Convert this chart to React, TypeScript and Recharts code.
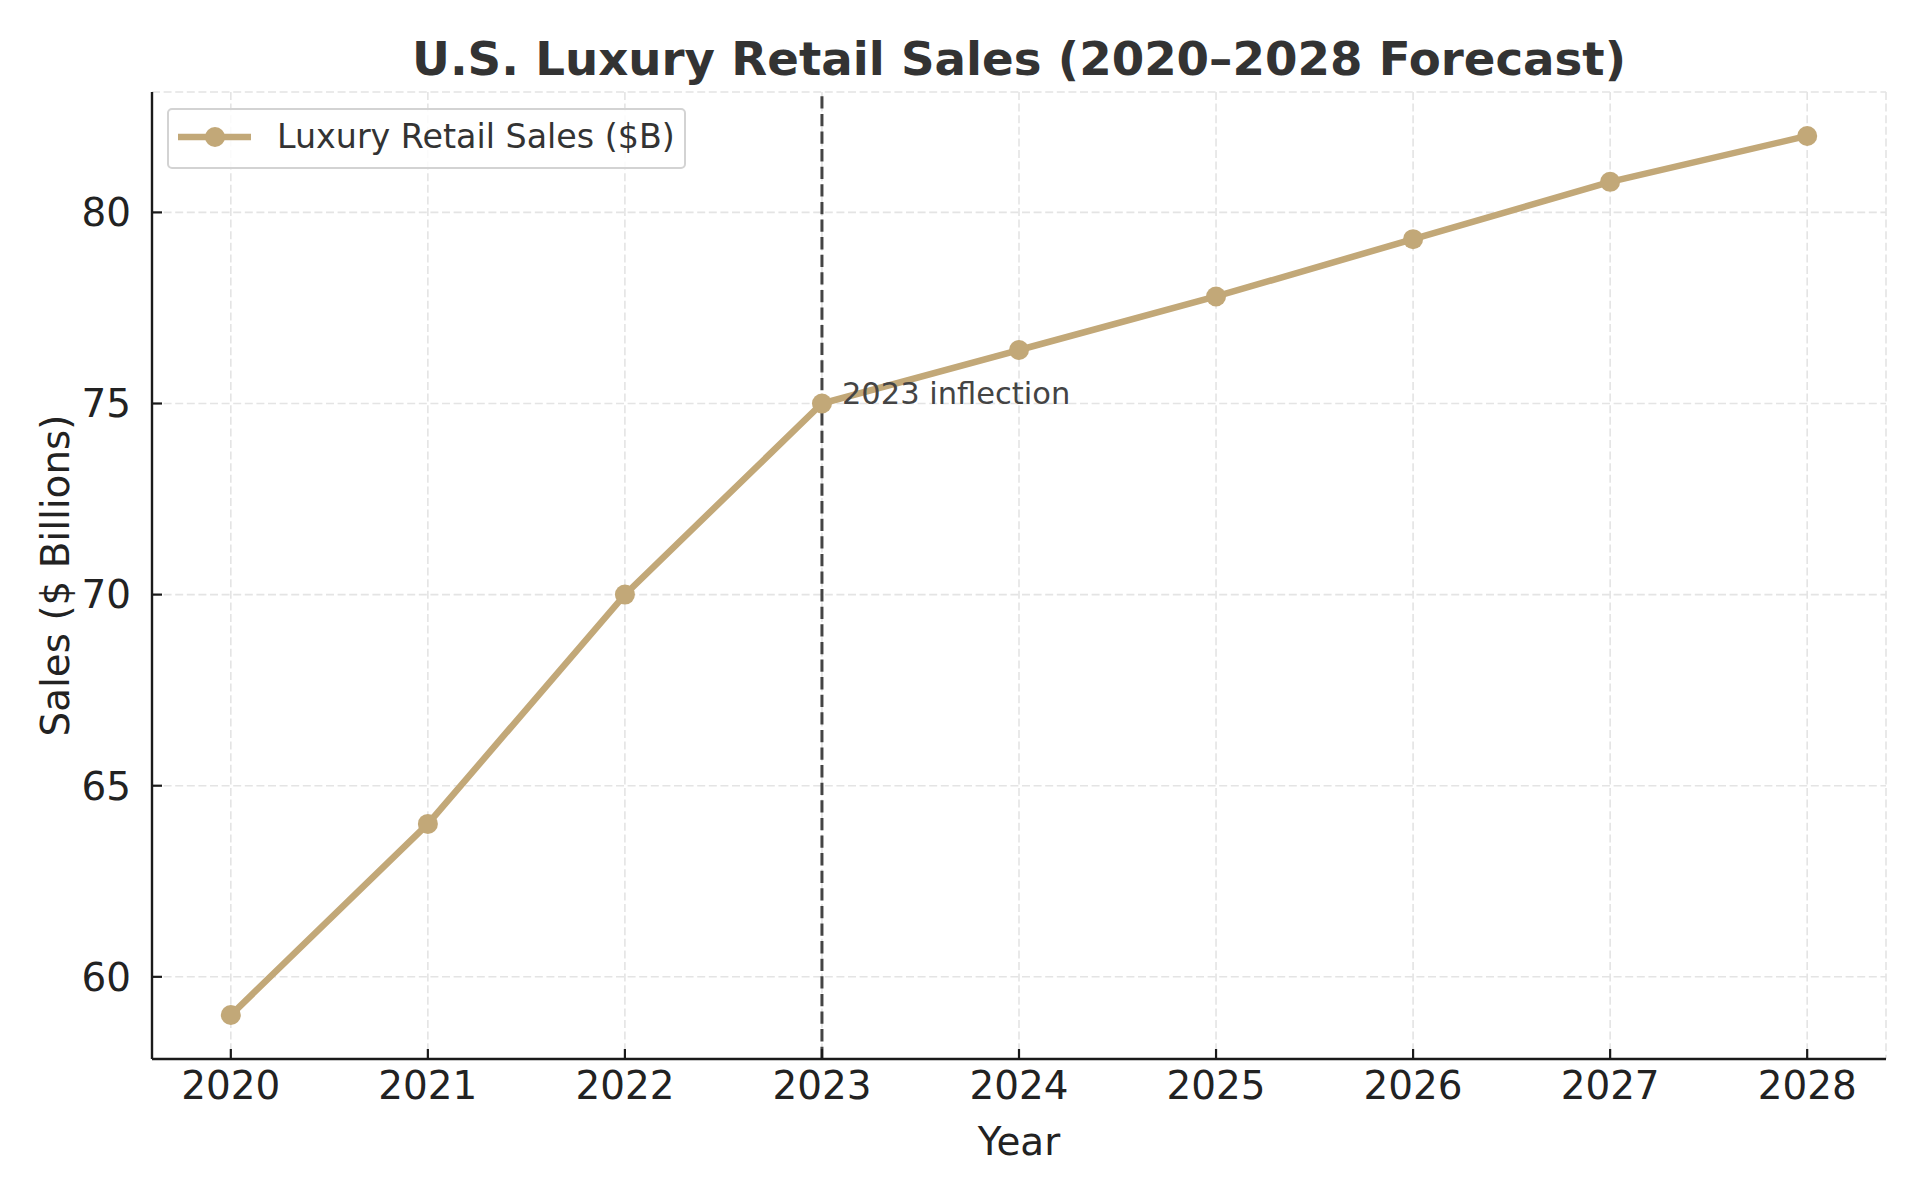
import React from 'react';
import {
  LineChart,
  Line,
  XAxis,
  YAxis,
  CartesianGrid,
  ReferenceLine,
  ReferenceDot,
  Legend,
} from 'recharts';

const years = [2020, 2021, 2022, 2023, 2024, 2025, 2026, 2027, 2028];
const sales = [59, 64, 70, 75, 76.4, 77.8, 79.3, 80.8, 82];
const yTicks = [60, 65, 70, 75, 80];
const xDomain = [2019.6, 2028.4];
const yDomain = [57.85, 83.15];
const inflectionYear = 2023;
const inflectionValue = 75;
const inflectionText = '2023 inflection';
const seriesName = 'Luxury Retail Sales ($B)';
const titleText = 'U.S. Luxury Retail Sales (2020–2028 Forecast)';
const xLabelText = 'Year';
const yLabelText = 'Sales ($ Billions)';

const data = years.map((year, i) => ({ year, sales: sales[i] }));

const FONT = '"DejaVu Sans", Verdana, sans-serif';
const GOLD = '#C2A878';
const AXIS = '#1a1a1a';
const TEXT = '#222222';

const LegendBox = (props: any) => {
  const entry = props.payload && props.payload[0];
  const label = entry ? entry.value : seriesName;
  const color = entry ? entry.color : GOLD;
  return (
    <div
      style={{
        boxSizing: 'border-box',
        width: 519,
        height: 61,
        border: '2px solid #d3d3d3',
        borderRadius: 5,
        background: 'rgba(255,255,255,0.85)',
        position: 'relative',
        fontFamily: FONT,
      }}
    >
      <svg width={95} height={57} style={{ position: 'absolute', left: 0, top: 0 }}>
        <line x1={9} x2={82} y1={27} y2={27} stroke={color} strokeWidth={6.5} />
        <circle cx={46} cy={27} r={10} fill={color} />
      </svg>
      <span
        style={{
          position: 'absolute',
          left: 108,
          top: 10,
          fontSize: 33.3,
          lineHeight: '33.3px',
          color: '#333333',
          whiteSpace: 'nowrap',
        }}
      >
        {label}
      </span>
    </div>
  );
};

const YLabel = (props: any) => {
  const vb = props.viewBox || { x: 0, y: 92, width: 152, height: 967 };
  const cx = vb.x + 69;
  const cy = vb.y + vb.height / 2;
  return (
    <text
      x={cx}
      y={cy}
      transform={`rotate(-90 ${cx} ${cy})`}
      textAnchor="middle"
      fontSize={38.9}
      fontFamily={FONT}
      fill={TEXT}
    >
      {yLabelText}
    </text>
  );
};

const InflectionLabel = (props: any) => {
  const vb = props.viewBox || { x: 0, y: 0, width: 0, height: 0 };
  const cx = vb.x + vb.width / 2;
  const cy = vb.y + vb.height / 2;
  return (
    <text x={cx + 20} y={cy} fontSize={30.5} fontFamily={FONT} fill="#444444">
      {inflectionText}
    </text>
  );
};

export default function App() {
  return (
    <div
      style={{
        position: 'absolute',
        left: 0,
        top: 0,
        width: 1920,
        height: 1200,
        background: '#ffffff',
        fontFamily: FONT,
      }}
    >
      <div
        style={{
          position: 'absolute',
          left: 152,
          width: 1734,
          top: 36,
          textAlign: 'center',
          fontSize: 46.7,
          lineHeight: '46.7px',
          fontWeight: 'bold',
          color: '#333333',
          whiteSpace: 'nowrap',
          zIndex: 2,
        }}
      >
        {titleText}
      </div>
      <LineChart
        width={1920}
        height={1200}
        data={data}
        margin={{ top: 92, right: 34, bottom: 0, left: 0 }}
        style={{ fontFamily: FONT }}
      >
        <CartesianGrid
          stroke="#e4e4e4"
          strokeDasharray="8 3.6"
          strokeWidth={1.6}
        />
        <XAxis
          dataKey="year"
          type="number"
          domain={xDomain}
          ticks={years}
          allowDataOverflow
          interval={0}
          height={141}
          axisLine={{ stroke: AXIS, strokeWidth: 2.4 }}
          tickLine={{ stroke: AXIS, strokeWidth: 2.2 }}
          tickSize={-10}
          tickMargin={22}
          tick={{ fontSize: 38.9, fill: TEXT, fontFamily: FONT }}
          label={{
            value: xLabelText,
            position: 'insideBottom',
            offset: 45,
            fontSize: 38.9,
            fill: TEXT,
            fontFamily: FONT,
          }}
        />
        <YAxis
          type="number"
          domain={yDomain}
          ticks={yTicks}
          allowDataOverflow
          interval={0}
          width={152}
          axisLine={{ stroke: AXIS, strokeWidth: 2.4 }}
          tickLine={{ stroke: AXIS, strokeWidth: 2.2 }}
          tickSize={-10}
          tickMargin={31}
          tick={{ fontSize: 38.9, fill: TEXT, fontFamily: FONT }}
          label={{ content: <YLabel /> }}
        />
        <Legend
          layout="horizontal"
          verticalAlign="middle"
          align="center"
          content={<LegendBox />}
          wrapperStyle={{ position: 'absolute', left: 167, top: 108, width: 519, height: 61 }}
        />
        <Line
          dataKey="sales"
          name={seriesName}
          stroke={GOLD}
          strokeWidth={6.5}
          dot={{ r: 10, fill: GOLD, stroke: GOLD, strokeWidth: 0 }}
          activeDot={false}
          isAnimationActive={false}
        />
        <ReferenceLine
          x={inflectionYear}
          stroke="#444444"
          strokeWidth={3}
          strokeDasharray="12.3 5.3"
        />
        <ReferenceDot
          x={inflectionYear}
          y={inflectionValue}
          r={1}
          fill="none"
          stroke="none"
          label={{ content: <InflectionLabel /> }}
        />
      </LineChart>
    </div>
  );
}
